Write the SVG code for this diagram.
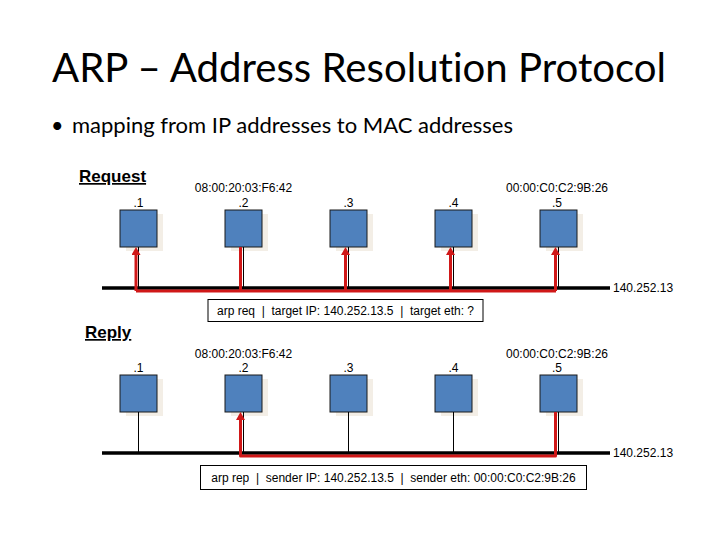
<svg xmlns="http://www.w3.org/2000/svg" width="720" height="540" viewBox="0 0 720 540">
  <style>
    .title { font-family: Lato, "Open Sans", sans-serif; font-size: 40px; fill: #000; font-variant-ligatures: none; }
    .bullet { font-family: Lato, "Open Sans", sans-serif; font-size: 21.5px; fill: #000; font-variant-ligatures: none; }
    .sec { font-family: "Liberation Sans", Arial, sans-serif; font-size: 17px; font-weight: bold; text-decoration: underline; fill: #000; }
    .lbl { font-family: "Liberation Sans", Arial, sans-serif; font-size: 12px; fill: #000; text-anchor: middle; }
    .net { font-family: "Liberation Sans", Arial, sans-serif; font-size: 12px; fill: #000; }
    .pkt { font-family: "Liberation Sans", Arial, sans-serif; font-size: 12px; fill: #000; text-anchor: middle; white-space: pre; }
    .box { fill: #4f81bd; stroke: #1a1a1a; stroke-width: 1; }
    .shadow { fill: #f3eee6; }
    .stub { stroke: #000; stroke-width: 1; fill: none; }
    .bus { stroke: #000; stroke-width: 3.5; fill: none; }
    .red { stroke: #d01818; stroke-width: 3; fill: none; stroke-linejoin: round; }
    .pktbox { fill: #fff; stroke: #000; stroke-width: 1; }
  </style>
  <defs>
    <marker id="arr" viewBox="0 0 8 9" refX="2" refY="4.5" markerWidth="8" markerHeight="9" markerUnits="userSpaceOnUse" orient="auto">
      <path d="M0,0 L8,4.5 L0,9 z" fill="#d01818"/>
    </marker>
  </defs>

  <rect width="720" height="540" fill="#fff"/>

  <text class="title" x="52" y="82" textLength="614" lengthAdjust="spacingAndGlyphs">ARP – Address Resolution Protocol</text>
  <text class="bullet" x="51" y="133">•</text>
  <text class="bullet" x="72" y="133" textLength="441" lengthAdjust="spacingAndGlyphs">mapping from IP addresses to MAC addresses</text>

  <!-- Request section -->
  <text class="sec" x="79" y="182">Request</text>
  <g id="req-bus">
    <line class="bus" x1="102" y1="288" x2="610" y2="288"/>
    <text class="net" x="613" y="292">140.252.13</text>
  </g>
  <g id="req-h1">
    <rect class="shadow" x="126" y="214" width="37" height="37"/>
    <rect class="box" x="120" y="210" width="37" height="37"/>
    <text class="lbl" x="138.5" y="207">.1</text>
  </g>
  <g id="req-h2">
    <rect class="shadow" x="231" y="214" width="37" height="37"/>
    <rect class="box" x="225" y="210" width="37" height="37"/>
    <text class="lbl" x="243.5" y="192">08:00:20:03:F6:42</text>
    <text class="lbl" x="243.5" y="207">.2</text>
  </g>
  <g id="req-h3">
    <rect class="shadow" x="336" y="214" width="37" height="37"/>
    <rect class="box" x="330" y="210" width="37" height="37"/>
    <text class="lbl" x="348.5" y="207">.3</text>
  </g>
  <g id="req-h4">
    <rect class="shadow" x="441" y="214" width="37" height="37"/>
    <rect class="box" x="435" y="210" width="37" height="37"/>
    <text class="lbl" x="453.5" y="207">.4</text>
  </g>
  <g id="req-h5">
    <rect class="shadow" x="546" y="214" width="37" height="37"/>
    <rect class="box" x="540" y="210" width="37" height="37"/>
    <text class="lbl" x="557" y="192">00:00:C0:C2:9B:26</text>
    <text class="lbl" x="557" y="207">.5</text>
  </g>
  <g id="req-packet">
    <rect class="pktbox" x="208" y="299.5" width="275" height="22"/>
    <text class="pkt" x="345.5" y="315">arp req  |  target IP: 140.252.13.5  |  target eth: ?</text>
  </g>
  <g id="req-connectors">
    <line class="stub" x1="138.5" y1="247" x2="138.5" y2="288"/>
    <line class="stub" x1="243.5" y1="247" x2="243.5" y2="288"/>
    <line class="stub" x1="348.5" y1="247" x2="348.5" y2="288"/>
    <line class="stub" x1="453.5" y1="247" x2="453.5" y2="288"/>
    <line class="stub" x1="558.5" y1="247" x2="558.5" y2="288"/>
    <path class="red" d="M240.5 247 V291 M136 291 H556"/>
    <path class="red" d="M136 291 V253" marker-end="url(#arr)"/>
    <path class="red" d="M345.5 291 V253" marker-end="url(#arr)"/>
    <path class="red" d="M450.5 291 V253" marker-end="url(#arr)"/>
    <path class="red" d="M555.5 291 V253" marker-end="url(#arr)"/>
  </g>

  <!-- Reply section -->
  <text class="sec" x="85" y="338">Reply</text>
  <g id="rep-bus">
    <line class="bus" x1="102" y1="453" x2="610" y2="453"/>
    <text class="net" x="613" y="457">140.252.13</text>
  </g>
  <g id="rep-h1">
    <rect class="shadow" x="126" y="379" width="37" height="37"/>
    <rect class="box" x="120" y="375" width="37" height="37"/>
    <text class="lbl" x="138.5" y="372">.1</text>
  </g>
  <g id="rep-h2">
    <rect class="shadow" x="231" y="379" width="37" height="37"/>
    <rect class="box" x="225" y="375" width="37" height="37"/>
    <text class="lbl" x="243.5" y="358">08:00:20:03:F6:42</text>
    <text class="lbl" x="243.5" y="372">.2</text>
  </g>
  <g id="rep-h3">
    <rect class="shadow" x="336" y="379" width="37" height="37"/>
    <rect class="box" x="330" y="375" width="37" height="37"/>
    <text class="lbl" x="348.5" y="372">.3</text>
  </g>
  <g id="rep-h4">
    <rect class="shadow" x="441" y="379" width="37" height="37"/>
    <rect class="box" x="435" y="375" width="37" height="37"/>
    <text class="lbl" x="453.5" y="372">.4</text>
  </g>
  <g id="rep-h5">
    <rect class="shadow" x="546" y="379" width="37" height="37"/>
    <rect class="box" x="540" y="375" width="37" height="37"/>
    <text class="lbl" x="557" y="358">00:00:C0:C2:9B:26</text>
    <text class="lbl" x="557" y="372">.5</text>
  </g>
  <g id="rep-packet">
    <rect class="pktbox" x="200.5" y="465.5" width="386" height="24"/>
    <text class="pkt" x="393.5" y="482">arp rep  |  sender IP: 140.252.13.5  |  sender eth: 00:00:C0:C2:9B:26</text>
  </g>
  <g id="rep-connectors">
    <line class="stub" x1="138.5" y1="412" x2="138.5" y2="453"/>
    <line class="stub" x1="243.5" y1="412" x2="243.5" y2="453"/>
    <line class="stub" x1="348.5" y1="412" x2="348.5" y2="453"/>
    <line class="stub" x1="453.5" y1="412" x2="453.5" y2="453"/>
    <line class="stub" x1="558.5" y1="412" x2="558.5" y2="453"/>
    <path class="red" d="M555.5 412 V456 H240.5 V418" marker-end="url(#arr)"/>
  </g>
</svg>
